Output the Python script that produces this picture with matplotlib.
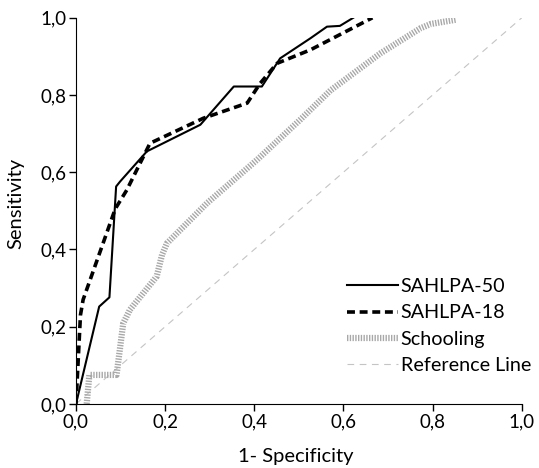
import matplotlib.pyplot as plt
from matplotlib.ticker import FuncFormatter

plt.rcParams['font.family'] = ['Lato', 'DejaVu Sans']

# ---- data ----
sahlpa50_x = [0.0, 0.052, 0.075, 0.090, 0.099, 0.159, 0.279, 0.354, 0.417, 0.458, 0.526, 0.563, 0.592, 0.622]
sahlpa50_y = [0.0, 0.252, 0.276, 0.563, 0.576, 0.654, 0.723, 0.822, 0.822, 0.895, 0.947, 0.977, 0.979, 1.0]

sahlpa18_x = [0.0, 0.010, 0.016, 0.088, 0.114, 0.166, 0.286, 0.384, 0.413, 0.451, 0.526, 0.665]
sahlpa18_y = [0.0, 0.230, 0.270, 0.505, 0.554, 0.675, 0.740, 0.779, 0.830, 0.882, 0.917, 1.0]

school_x = [0.024, 0.030, 0.091, 0.106, 0.121, 0.181, 0.193, 0.204, 0.294, 0.406, 0.503, 0.571,
            0.683, 0.773, 0.796, 0.852]
school_y = [0.0, 0.075, 0.075, 0.209, 0.244, 0.330, 0.386, 0.416, 0.520, 0.632, 0.736, 0.812,
            0.908, 0.973, 0.984, 0.995]

ref_x = [0.0, 1.0]
ref_y = [0.0, 1.0]

ticks = [0.0, 0.2, 0.4, 0.6, 0.8, 1.0]

fig = plt.figure(figsize=(5.39, 4.68), dpi=100)
ax = fig.add_axes([0.141, 0.137, 0.827, 0.825])

ax.plot(sahlpa50_x, sahlpa50_y, color='black', lw=1.5, label='SAHLPA-50', zorder=4)
ax.plot(sahlpa18_x, sahlpa18_y, color='black', lw=2.6, ls=(0, (2.2, 1.3)), label='SAHLPA-18', zorder=3)
ax.plot(school_x, school_y, color='#a8a8a8', lw=4.5, ls=(0, (0.22, 0.22)),
        solid_capstyle='butt', dash_capstyle='butt', label='Schooling', zorder=2)
ax.plot(ref_x, ref_y, color='#c4c4c4', lw=0.8, ls=(0, (6, 5)), label='Reference Line', zorder=1)

ax.set_xlim(0, 1)
ax.set_ylim(0, 1)
ax.set_xticks(ticks)
ax.set_yticks(ticks)
fmt = FuncFormatter(lambda v, p: f'{v:.1f}'.replace('.', ','))
ax.xaxis.set_major_formatter(fmt)
ax.yaxis.set_major_formatter(fmt)
ax.tick_params(direction='out', length=5, width=1, labelsize=13.5, pad=2)
for s in ['top', 'right']:
    ax.spines[s].set_visible(False)
ax.set_xlabel('1- Specificity', fontsize=14.5, va='center')
ax.set_ylabel('Sensitivity', fontsize=14.5, va='center')
ax.xaxis.set_label_coords(0.494, -0.137)
ax.yaxis.set_label_coords(-0.135, 0.518)

ax.legend(loc='upper left', frameon=False, fontsize=14.2, handlelength=2.55,
          handletextpad=0.15, labelspacing=0.46, borderpad=0, borderaxespad=0,
          bbox_to_anchor=(0.609, 0.325))

fig.savefig('out.png', dpi=100)
